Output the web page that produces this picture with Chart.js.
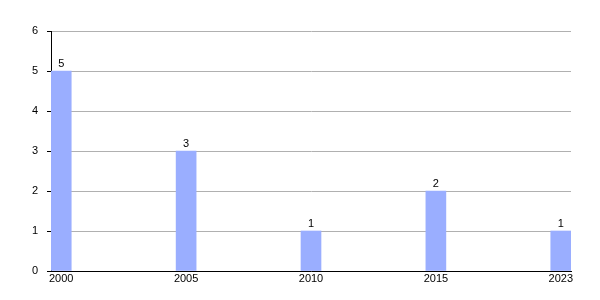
<!DOCTYPE html>
<html>
<head>
<meta charset="utf-8">
<script src="https://cdn.jsdelivr.net/npm/chart.js@4"></script>
<style>
  body { margin: 0; background: #fff; }
  #wrap { width: 600px; height: 300px; }
</style>
</head>
<body>
<div id="wrap"><canvas id="grafico"></canvas></div>
<script>
var anni = ["2000", "2005", "2010", "2015", "2023"];
var valori = [5, 3, 1, 2, 1];
var yTicks = [0, 1, 2, 3, 4, 5, 6];

// etichette sopra le barre
var etichette = {
  id: 'etichette',
  afterDatasetsDraw: function(chart) {
    var ctx = chart.ctx;
    var meta = chart.getDatasetMeta(0);
    ctx.save();
    ctx.fillStyle = '#000';
    ctx.font = '11px "Liberation Sans", Arial, sans-serif';
    ctx.textAlign = 'center';
    ctx.textBaseline = 'bottom';
    meta.data.forEach(function(bar, i) {
      ctx.fillText(String(valori[i]), bar.x, bar.y - 2);
    });
    ctx.restore();
  }
};

var dati = valori.map(function(v, i) { return { x: i, y: v }; });

new Chart(document.getElementById('grafico'), {
  type: 'bar',
  data: {
    datasets: [{
      data: dati,
      backgroundColor: '#9aaeff',
      borderWidth: 0,
      barThickness: 20
    }]
  },
  options: {
    responsive: true,
    maintainAspectRatio: false,
    animation: false,
    layout: { padding: { top: 31, right: 29, left: 0, bottom: 0 } },
    plugins: { legend: { display: false }, tooltip: { enabled: false } },
    scales: {
      x: {
        type: 'linear',
        offset: false,
        min: -0.082,
        max: 4.082,
        afterBuildTicks: function(scale) {
          scale.ticks = anni.map(function(a, i) { return { value: i }; });
        },
        ticks: {
          color: '#000',
          padding: 1,
          maxRotation: 0,
          autoSkip: false,
          font: { family: '"Liberation Sans", Arial, sans-serif', size: 11 },
          callback: function(v) { return anni[v]; }
        },
        grid: { drawOnChartArea: false, drawTicks: false },
        border: { color: '#000', width: 1 },
        afterFit: function(scale) { scale.height = 29; }
      },
      y: {
        min: 0,
        max: 6,
        afterBuildTicks: function(scale) {
          scale.ticks = yTicks.map(function(v) { return { value: v }; });
        },
        ticks: {
          color: '#000',
          padding: 9,
          font: { family: '"Liberation Sans", Arial, sans-serif', size: 11 }
        },
        grid: { color: '#b0b0b0', tickColor: '#000', tickLength: 4 },
        border: { color: '#000', width: 1 },
        afterFit: function(scale) { scale.width = 51; }
      }
    }
  },
  plugins: [etichette]
});
</script>
</body>
</html>
